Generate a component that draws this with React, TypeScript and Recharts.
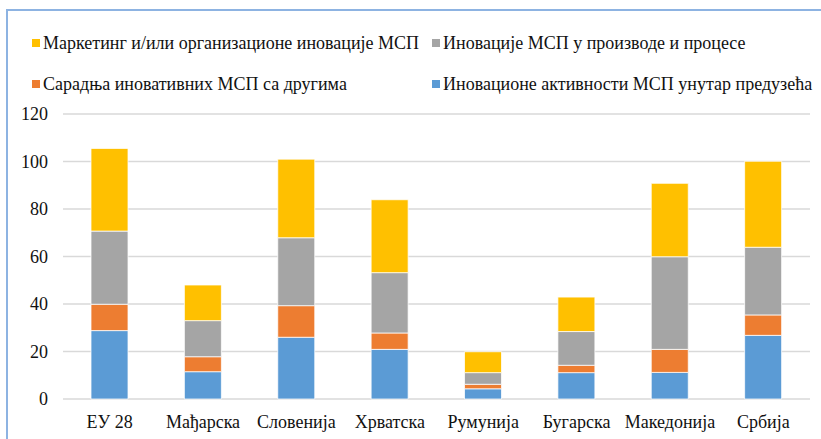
import React from 'react';
import { BarChart, Bar, XAxis, YAxis, CartesianGrid, Legend } from 'recharts';

const categories = ['ЕУ 28', 'Мађарска', 'Словенија', 'Хрватска', 'Румунија', 'Бугарска', 'Македонија', 'Србија'];
const internalActivity = [28.8, 11.5, 26, 20.9, 4.3, 11.1, 11.2, 26.8];
const cooperation = [11.1, 6.3, 13.3, 6.9, 1.9, 3.1, 9.7, 8.6];
const productProcess = [30.8, 15.2, 28.6, 25.4, 4.9, 14.2, 39, 28.5];
const marketingOrg = [34.8, 15, 33.1, 30.7, 8.8, 14.5, 30.9, 36.2];
const yTicks = [0, 20, 40, 60, 80, 100, 120];

const series = [
    { key: 'internal', name: 'Иновационе активности МСП унутар предузећа', color: '#5b9bd5' },
    { key: 'coop', name: 'Сарадња иновативних МСП са другима', color: '#ed7d31' },
    { key: 'product', name: 'Иновације МСП у производе и процесе', color: '#a5a5a5' },
    { key: 'marketing', name: 'Маркетинг и/или организационе иновације МСП', color: '#ffc000' },
];

const data = categories.map((name, i) => ({
    name,
    internal: internalActivity[i],
    coop: cooperation[i],
    product: productProcess[i],
    marketing: marketingOrg[i],
}));

const font = 'Liberation Serif, Times New Roman, Tinos, DejaVu Serif, serif';

// legend order as in the picture: two rows, two columns
const legendSlots = [
    { key: 'marketing', left: 32, top: 33 },
    { key: 'product', left: 432, top: 33 },
    { key: 'coop', left: 32, top: 74 },
    { key: 'internal', left: 432, top: 74 },
];

function ChartLegend() {
    return (
        <div style={{ position: 'relative', width: 821, height: 110 }}>
            {legendSlots.map((slot) => {
                const s = series.find((x) => x.key === slot.key)!;
                return (
                    <div
                        key={slot.key}
                        style={{
                            position: 'absolute',
                            left: slot.left,
                            top: slot.top,
                            height: 20,
                            display: 'flex',
                            alignItems: 'center',
                            whiteSpace: 'nowrap',
                            fontFamily: font,
                            fontSize: 18,
                            color: '#111',
                        }}
                    >
                        <span style={{ width: 8, height: 8, background: s.color, marginRight: 3, display: 'inline-block' }} />
                        <span>{s.name}</span>
                    </div>
                );
            })}
        </div>
    );
}

export default function App() {
    return (
        <div style={{ position: 'fixed', left: 0, top: 0, width: 821, height: 439, overflow: 'hidden', background: '#fff', fontFamily: font }}>
            <div
                style={{
                    position: 'absolute',
                    left: 6,
                    top: 9,
                    width: 1000,
                    height: 1000,
                    border: '2px solid #8db3e2',
                }}
            />
            <div style={{ position: 'absolute', left: 0, top: 0 }}>
                <BarChart
                    width={821}
                    height={439}
                    data={data}
                    margin={{ top: 114, right: 11, left: 0, bottom: 10 }}
                    barCategoryGap='30%'
                    style={{ fontFamily: font }}
                >
                    <CartesianGrid vertical={false} stroke='#d9d9d9' strokeWidth={1.5} />
                    <XAxis
                        dataKey='name'
                        axisLine={false}
                        tickLine={false}
                        tickSize={0}
                        tickMargin={16}
                        height={30}
                        interval={0}
                        tick={{ fill: '#111', fontSize: 18, fontFamily: font }}
                    />
                    <YAxis
                        domain={[0, 120]}
                        ticks={yTicks}
                        axisLine={false}
                        tickLine={false}
                        tickSize={0}
                        tickMargin={15}
                        width={63}
                        tick={{ fill: '#111', fontSize: 18, fontFamily: font }}
                    />
                    <Legend
                        verticalAlign='middle'
                        align='center'
                        layout='horizontal'
                        wrapperStyle={{ top: 0, left: 0, width: 821, height: 110 }}
                        content={() => <ChartLegend />}
                    />
                    {series.map((s) => (
                        <Bar
                            key={s.key}
                            dataKey={s.key}
                            name={s.name}
                            stackId='a'
                            fill={s.color}
                            stroke='#ffffff'
                            strokeWidth={0.75}
                            isAnimationActive={false}
                        />
                    ))}
                </BarChart>
            </div>
        </div>
    );
}
